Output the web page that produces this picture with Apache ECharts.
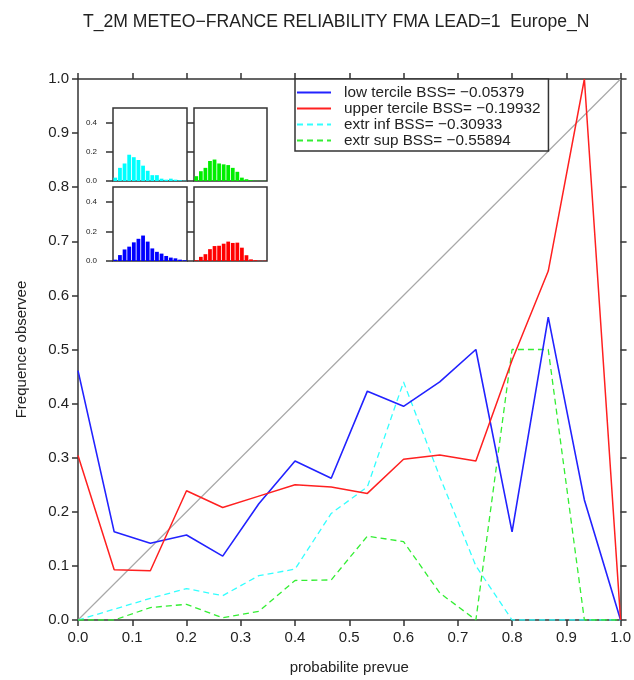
<!DOCTYPE html>
<html>
<head>
<meta charset="utf-8">
<script src="https://cdn.jsdelivr.net/npm/echarts@6/dist/echarts.min.js"></script>
<style>html,body{margin:0;padding:0;background:#fff}#c{width:634px;height:680px}</style>
</head>
<body>
<div id="c"></div>
<script>
// forecast probability bins (x positions)
const probs = [0, 0.0667, 0.1333, 0.2, 0.2667, 0.3333, 0.4, 0.4667, 0.5333, 0.6, 0.6667, 0.7333, 0.8, 0.8667, 0.9333, 1.0];
// observed frequency per series
const lowTercile   = [0.461, 0.163, 0.142, 0.157, 0.118, 0.215, 0.294, 0.262, 0.423, 0.395, 0.440, 0.500, 0.163, 0.560, 0.222, 0.0];
const upperTercile = [0.304, 0.093, 0.091, 0.239, 0.208, 0.229, 0.250, 0.246, 0.234, 0.297, 0.305, 0.294, 0.480, 0.645, 1.0, 0.0];
const extrInf      = [0.0, 0.020, 0.040, 0.058, 0.045, 0.082, 0.094, 0.197, 0.246, 0.440, 0.265, 0.100, 0.0, 0.0, 0.0, 0.0];
const extrSup      = [0.0, 0.0, 0.023, 0.029, 0.004, 0.016, 0.073, 0.074, 0.155, 0.145, 0.050, 0.0, 0.500, 0.500, 0.0, 0.0];
const diagonal     = [[0, 0], [1, 1]];
// sharpness histograms (relative frequency per probability bin)
const histBins     = ['1','2','3','4','5','6','7','8','9','10','11','12','13','14','15','16'];
const histExtrInf  = [0.023, 0.090, 0.120, 0.180, 0.163, 0.144, 0.105, 0.070, 0.040, 0.040, 0.016, 0.009, 0.016, 0.009, 0.005, 0.002];
const histExtrSup  = [0.033, 0.067, 0.090, 0.137, 0.147, 0.120, 0.114, 0.109, 0.090, 0.063, 0.023, 0.012, 0.005, 0.002, 0.001, 0.001];
const histLow      = [0.009, 0.040, 0.078, 0.097, 0.126, 0.150, 0.172, 0.131, 0.085, 0.062, 0.050, 0.034, 0.023, 0.018, 0.009, 0.005];
const histUpper    = [0.005, 0.028, 0.046, 0.080, 0.101, 0.103, 0.117, 0.131, 0.122, 0.124, 0.090, 0.039, 0.011, 0.005, 0.002, 0.002];
// texts
const titleText = 'T_2M METEO\u2212FRANCE RELIABILITY FMA LEAD=1  Europe_N';
const names = ['low tercile BSS= \u22120.05379', 'upper tercile BSS= \u22120.19932', 'extr inf BSS= \u22120.30933', 'extr sup BSS= \u22120.55894'];
const xTitle = 'probabilite prevue';
const yTitle = 'Frequence observee';
const insetTicks = [0, 0.2, 0.4];

const pair = arr => probs.map((p, i) => [p, arr[i]]);
const axisCol = '#333';
const font = 'Liberation Sans, Arial, Helvetica, sans-serif';

const mainAxisCommon = {
  type: 'value', min: 0, max: 1, interval: 0.1, gridIndex: 0,
  axisLine: { show: true, onZero: false, lineStyle: { color: axisCol, width: 1.5 } },
  axisTick: { show: true, inside: false, length: 6, lineStyle: { color: axisCol, width: 1.5 } },
  splitLine: { show: false }
};
const labelStyle = { show: true, fontSize: 15, color: '#222', fontFamily: font, formatter: v => v.toFixed(1) };

const insetGrids = [
  { left: 113, top: 108, width: 74, height: 73 },
  { left: 194, top: 108, width: 73, height: 73 },
  { left: 113, top: 187, width: 74, height: 74 },
  { left: 194, top: 187, width: 73, height: 74 }
];
const insetData = [histExtrInf, histExtrSup, histLow, histUpper];
const insetColors = ['#00ffff', '#00ee00', '#0000ff', '#ff0000'];

const grids = [{ left: 78, top: 79, right: 11, bottom: 58 }].concat(insetGrids.map(g => Object.assign({
  show: true, borderColor: axisCol, borderWidth: 1.5, backgroundColor: '#fff', z: 5
}, g)));

const xAxes = [
  Object.assign({}, mainAxisCommon, { position: 'bottom', axisLabel: Object.assign({}, labelStyle, { margin: 10 }),
    name: xTitle, nameLocation: 'middle', nameGap: 40, nameTextStyle: { fontSize: 15, color: '#222', fontFamily: font } }),
  Object.assign({}, mainAxisCommon, { position: 'top', axisLabel: { show: false } })
];
const yAxes = [
  Object.assign({}, mainAxisCommon, { position: 'left', axisLabel: Object.assign({}, labelStyle, { margin: 9 }),
    name: yTitle, nameLocation: 'middle', nameGap: 49, nameTextStyle: { fontSize: 15, color: '#222', fontFamily: font } }),
  Object.assign({}, mainAxisCommon, { position: 'right', axisLabel: { show: false } })
];
insetGrids.forEach((g, k) => {
  xAxes.push({ type: 'category', gridIndex: k + 1, data: histBins, axisLine: { show: false }, axisTick: { show: false }, axisLabel: { show: false }, z: 6 });
  yAxes.push({ type: 'value', gridIndex: k + 1, min: 0, max: 0.5, position: 'left', z: 6,
    axisLine: { show: false }, splitLine: { show: false },
    axisTick: { show: true, length: 7, customValues: insetTicks, lineStyle: { color: axisCol, width: 1.5 } },
    axisLabel: { show: k % 2 === 0, customValues: insetTicks, fontSize: 8, margin: 16, color: '#222', fontFamily: font, formatter: v => v.toFixed(1) } });
});

const series = [
  { name: '__diag', type: 'line', xAxisIndex: 0, yAxisIndex: 0, data: diagonal, symbol: 'none', silent: true,
    lineStyle: { color: '#a8a8a8', width: 1.2 }, z: 1 },
  { name: names[0], type: 'line', data: pair(lowTercile), symbol: 'none', color: '#2222ff', lineStyle: { color: '#2222ff', width: 1.6 }, z: 3 },
  { name: names[1], type: 'line', data: pair(upperTercile), symbol: 'none', color: '#ff2020', lineStyle: { color: '#ff2020', width: 1.5 }, z: 3 },
  { name: names[2], type: 'line', data: pair(extrInf), symbol: 'none', color: '#33ffff', lineStyle: { color: '#33ffff', width: 1.3, type: [6, 4] }, z: 2 },
  { name: names[3], type: 'line', data: pair(extrSup), symbol: 'none', color: '#33ee33', lineStyle: { color: '#33ee33', width: 1.3, type: [6, 4] }, z: 2 }
];
insetData.forEach((d, k) => {
  series.push({ type: 'bar', xAxisIndex: k + 2, yAxisIndex: k + 2, data: d, barCategoryGap: '18%',
    itemStyle: { color: insetColors[k] }, silent: true, z: 7 });
});

const chart = echarts.init(document.getElementById('c'), null, { renderer: 'canvas' });
chart.setOption({
  animation: false,
  backgroundColor: '#fff',
  textStyle: { fontFamily: font },
  title: { text: titleText, left: 78, top: 8, textStyle: { fontSize: 17.6, fontWeight: 'normal', color: '#222', fontFamily: font } },
  legend: {
    data: names, orient: 'vertical', left: 295, top: 79,
    itemWidth: 34, itemHeight: 14, itemGap: 1, padding: [6, 8, 3, 1],
    borderColor: axisCol, borderWidth: 1.5, backgroundColor: '#fff',
    itemStyle: { opacity: 0 },
    textStyle: { fontSize: 15.3, color: '#222', fontFamily: font, padding: [0, 0, 0, 8] },
    selectedMode: false, z: 10
  },
  grid: grids,
  xAxis: xAxes,
  yAxis: yAxes,
  series: series
});
</script>
</body>
</html>
